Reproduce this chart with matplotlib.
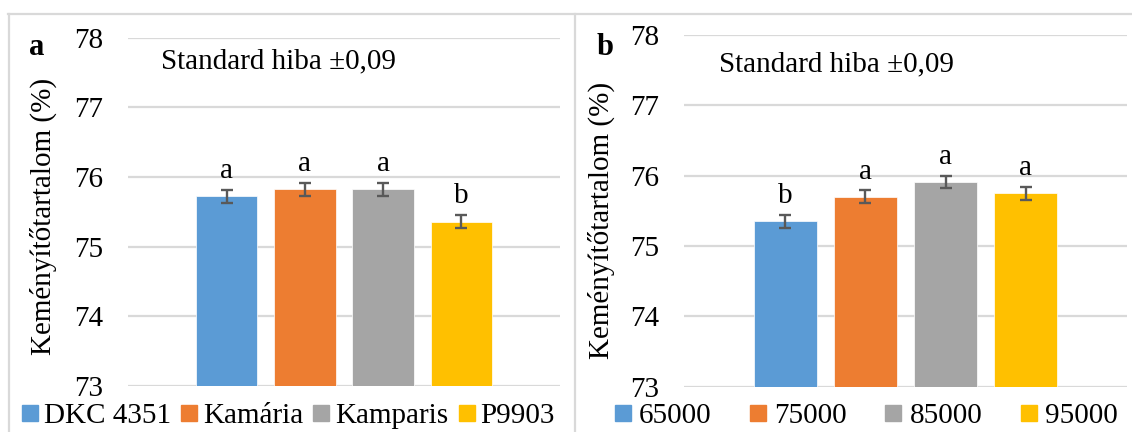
import matplotlib
matplotlib.use("Agg")
import matplotlib.pyplot as plt
from matplotlib.lines import Line2D

plt.rcParams["font.family"] = ["Liberation Serif", "DejaVu Serif"]

# Panel a: hybrids
hybrids = ["DKC 4351", "Kamária", "Kamparis", "P9903"]
hybrid_values = [75.72, 75.82, 75.82, 75.36]
hybrid_letters = ["a", "a", "a", "b"]

# Panel b: plant densities
densities = ["65000", "75000", "85000", "95000"]
density_values = [75.35, 75.70, 75.91, 75.75]
density_letters = ["b", "a", "a", "a"]

std_error = 0.09
y_ticks = [73, 74, 75, 76, 77, 78]
y_label = "Keményítőtartalom (%)"
note = "Standard hiba ±0,09"

colors = ["#5B9BD5", "#ED7D31", "#A5A5A5", "#FFC000"]
grid_col = "#D9D9D9"
err_col = "#595959"
FS = 21

W, H = 1132, 432
fig = plt.figure(figsize=(W / 100, H / 100), dpi=100)


def fx(px):
    return px / W


def fy(py):
    return 1 - py / H


def draw_panel(rect, cats, vals, letters, panel, panel_xy, note_xy, ylab_xy,
               leg_x, colspace, textpad):
    ax = fig.add_axes(rect)
    step, width = 0.181, 0.142
    for i, (c, v, l) in enumerate(zip(cats, vals, letters)):
        x = (i - 1.5) * step
        ax.bar(x, v - 73, bottom=73, width=width, color=colors[i],
               edgecolor="white", linewidth=0.5, zorder=3)
        ax.errorbar(x, v, yerr=std_error, color=err_col, elinewidth=1.7,
                    capsize=4, capthick=1.7, zorder=4)
        ax.annotate(l, (x, v + std_error), xytext=(0, 8.5),
                    textcoords="offset points", ha="center", va="baseline",
                    fontsize=FS, zorder=5)
    ax.set_xlim(-0.5, 0.5)
    ax.set_ylim(73, 78)
    ax.set_yticks(y_ticks)
    ax.set_xticks([])
    ax.tick_params(axis="y", length=0, pad=18, labelsize=FS)
    for s in ax.spines.values():
        s.set_visible(False)
    ax.yaxis.grid(True, color=grid_col, linewidth=1.6, zorder=0)
    ax.set_axisbelow(True)
    ax.patch.set_alpha(0)

    fig.text(fx(panel_xy[0]), fy(panel_xy[1]), panel, fontsize=22,
             fontweight="bold", ha="left", va="baseline")
    fig.text(fx(note_xy[0]), fy(note_xy[1]), note, fontsize=FS,
             ha="left", va="baseline")
    fig.text(fx(ylab_xy[0]), fy(ylab_xy[1]), y_label, fontsize=FS,
             rotation=90, ha="center", va="center")

    handles = [Line2D([], [], marker="s", linestyle="none", markersize=11,
                      markerfacecolor=c, markeredgecolor=c) for c in colors]
    fig.legend(handles, cats, loc="center left",
               bbox_to_anchor=(fx(leg_x), fy(416)), ncol=4, frameon=False,
               fontsize=FS, handlelength=0.6, handletextpad=textpad,
               columnspacing=colspace, borderpad=0, borderaxespad=0)
    return ax


draw_panel([fx(128), fy(386), fx(560) - fx(128), fy(37.5) - fy(386)],
           hybrids, hybrid_values, hybrid_letters, "a",
           (29, 55), (161, 68), (43, 216), 21, 0.32, 0.18)
draw_panel([fx(684), fy(386.7), fx(1127) - fx(684), fy(35) - fy(386.7)],
           densities, density_values, density_letters, "b",
           (597, 55), (719, 71), (601, 220), 614, 1.3, 0.25)

# Frame lines around the two panels
for xs, ys in [((8, W), (14, 14)), ((9, 9), (14, H)), ((575.5, 575.5), (14, H))]:
    fig.add_artist(Line2D([fx(xs[0]), fx(xs[1])], [fy(ys[0]), fy(ys[1])],
                          color=grid_col, linewidth=1.6,
                          transform=fig.transFigure))

fig.savefig("out.png", dpi=100, facecolor="white")
